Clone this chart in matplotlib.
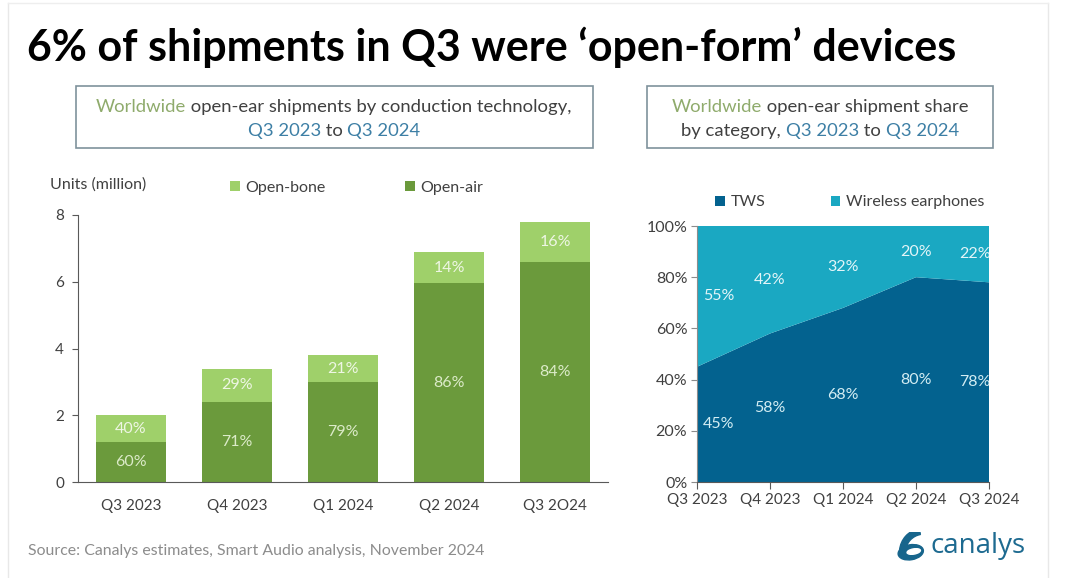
import matplotlib
matplotlib.use("Agg")
import matplotlib.pyplot as plt
from matplotlib.patches import Rectangle, Ellipse, Wedge
import numpy as np

# data
quarters = ["Q3 2023", "Q4 2023", "Q1 2024", "Q2 2024", "Q3 2O24"]
open_air = [1.2, 2.41, 3.0, 5.95, 6.6]
open_bone = [0.8, 0.99, 0.8, 0.95, 1.2]
air_pct = ["60%", "71%", "79%", "86%", "84%"]
bone_pct = ["40%", "29%", "21%", "14%", "16%"]

share_quarters = ["Q3 2023", "Q4 2023", "Q1 2024", "Q2 2024", "Q3 2024"]
tws = [45, 58, 68, 80, 78]
wireless = [55, 42, 32, 20, 22]

FONT = "Lato"
DARK = "#404040"
GREEN_DARK = "#6b9a3c"
GREEN_LIGHT = "#9fd06a"
BLUE_DARK = "#03628f"
BLUE_LIGHT = "#1aa8c2"
WW_GREEN = "#8fab6c"
Q_BLUE = "#3d7fa5"

plt.rcParams["font.family"] = [FONT, "DejaVu Sans"]

W, H = 1065, 578
fig = plt.figure(figsize=(W / 100, H / 100), dpi=100)


def fx(px):
    return px / W


def fy(py):
    return 1 - py / H


renderer = fig.canvas.get_renderer()


def text_width(s, **kw):
    t = fig.text(0, 0, s, **kw)
    w = t.get_window_extent(renderer).width
    t.remove()
    return w


def rich_line(xc, y, parts, **kw):
    full = "".join(s for s, _ in parts)
    total = text_width(full, **kw)
    bar = text_width("|", **kw)
    x0 = xc - total / 2
    prefix = ""
    for s, c in parts:
        off = text_width(prefix + "|", **kw) - bar if prefix else 0
        fig.text(fx(x0 + off), fy(y), s, color=c, va="center", ha="left", **kw)
        prefix += s


# faint frame of the slide
fig.add_artist(plt.Line2D([fx(8), fx(8)], [0, fy(3)], color="#e8e8e8", lw=1))
fig.add_artist(plt.Line2D([fx(1048), fx(1048)], [0, fy(3)], color="#e8e8e8", lw=1))
fig.add_artist(plt.Line2D([fx(8), fx(1048)], [fy(3), fy(3)], color="#eeeeee", lw=1))

# title
fig.text(fx(27), fy(47), "6% of shipments in Q3 were \u2018open-form\u2019 devices",
         fontsize=31, fontweight="bold", color="black", va="center")

# subtitle boxes
for x0, x1 in [(76, 593), (647, 993)]:
    fig.add_artist(Rectangle((fx(x0), fy(148)), (x1 - x0) / W, (148 - 86) / H,
                             transform=fig.transFigure, fill=False, ec="#7f929c", lw=1.2))

box_kw = dict(fontsize=13.3)
rich_line(334, 107, [("Worldwide", WW_GREEN),
                     (" open-ear shipments by conduction technology,", DARK)], **box_kw)
rich_line(334, 131, [("Q3 2023", Q_BLUE), (" to ", DARK), ("Q3 2024", Q_BLUE)], **box_kw)
rich_line(820, 107, [("Worldwide", WW_GREEN), (" open-ear shipment share", DARK)], **box_kw)
rich_line(820, 131, [("by category, ", DARK), ("Q3 2023", Q_BLUE), (" to ", DARK),
                     ("Q3 2024", Q_BLUE)], **box_kw)

# left chart: stacked bars
ax1 = fig.add_axes([fx(78), fy(482), (608 - 78) / W, (482 - 215) / H])
x = np.arange(len(quarters))
b_air = ax1.bar(x, open_air, width=0.66, color=GREEN_DARK, label="Open-air")
b_bone = ax1.bar(x, open_bone, width=0.66, bottom=open_air, color=GREEN_LIGHT,
                 label="Open-bone")
ax1.bar_label(b_air, labels=air_pct, label_type="center", color="#dcebc9", fontsize=11.5)
ax1.bar_label(b_bone, labels=bone_pct, label_type="center", color="#eef6e4", fontsize=11.5)
ax1.set_xlim(-0.5, len(quarters) - 0.5)
ax1.set_ylim(0, 8)
ax1.set_yticks([0, 2, 4, 6, 8])
ax1.set_xticks(x)
ax1.set_xticklabels(quarters)
for s in ["top", "right"]:
    ax1.spines[s].set_visible(False)
ax1.spines["left"].set_color("#595959")
ax1.spines["bottom"].set_color("#595959")
ax1.tick_params(axis="x", length=0, pad=12, labelsize=11, labelcolor=DARK)
ax1.tick_params(axis="y", length=4, color="#595959", pad=6, labelsize=11, labelcolor=DARK)
ax1.legend(handles=[b_bone, b_air], loc="lower left", bbox_to_anchor=(0.287, 1.075),
           ncol=2, frameon=False, fontsize=11.5, handlelength=0.6, handleheight=0.6,
           handletextpad=0.35, columnspacing=5.0, borderpad=0, borderaxespad=0,
           labelcolor=DARK)
fig.text(fx(50), fy(185), "Units (million)", fontsize=11.5, color=DARK, va="center")

# right chart: stacked area share
ax2 = fig.add_axes([fx(697), fy(482), (989 - 697) / W, (482 - 226) / H])
xs = np.arange(len(share_quarters))
polys = ax2.stackplot(xs, tws, wireless, colors=[BLUE_DARK, BLUE_LIGHT],
                      labels=["TWS", "Wireless earphones"])
ax2.set_xlim(0, len(share_quarters) - 1)
ax2.set_ylim(0, 100)
ax2.set_yticks(range(0, 101, 20))
ax2.set_yticklabels([f"{v}%" for v in range(0, 101, 20)])
ax2.set_xticks(xs)
ax2.set_xticklabels(share_quarters)
for s in ["top", "right"]:
    ax2.spines[s].set_visible(False)
ax2.spines["left"].set_color("#8c8c8c")
ax2.spines["bottom"].set_color("#595959")
ax2.tick_params(axis="x", length=5, color="#595959", pad=3, labelsize=11, labelcolor=DARK)
ax2.tick_params(axis="y", length=4, color="#8c8c8c", pad=3, labelsize=11.5, labelcolor=DARK)
offsets = [0.3, 0, 0, 0, -0.19]
for i in range(len(share_quarters)):
    ax2.text(xs[i] + offsets[i], tws[i] / 2, f"{tws[i]}%", ha="center", va="center",
             color="#d3edf3", fontsize=11.5, clip_on=True)
    ax2.text(xs[i] + offsets[i], tws[i] + wireless[i] / 2, f"{wireless[i]}%", ha="center",
             va="center", color="#e3f5f8", fontsize=11.5, clip_on=True)
ax2.legend(handles=polys, loc="lower left", bbox_to_anchor=(0.062, 1.065), ncol=2,
           frameon=False, fontsize=11.5, handlelength=0.6, handleheight=0.6,
           handletextpad=0.35, columnspacing=4.1, borderpad=0, borderaxespad=0,
           labelcolor=DARK)

# footer
fig.text(fx(28), fy(551), "Source: Canalys estimates, Smart Audio analysis, November 2024",
         fontsize=11.4, color="#8c8c8c", va="center")

# canalys logo
logo = fig.add_axes([fx(895), fy(562), 30 / W, 30 / H])
logo.set_xlim(-1, 1)
logo.set_ylim(-1, 1)
logo.set_aspect("equal")
logo.axis("off")
logo.add_patch(Ellipse((0.05, -0.35), 1.7, 1.0, angle=10, color="#17658c"))
logo.add_patch(Ellipse((0.25, -0.3), 0.9, 0.35, angle=10, color="white"))
logo.add_patch(Wedge((0.9, -0.35), 1.6, 100, 175, width=0.4, color="#17658c"))
fig.text(fx(930), fy(546), "canalys", fontsize=20, color="#1d6a90", va="center",
         family=["Open Sans", "DejaVu Sans"])

fig.savefig("out.png", dpi=100)
